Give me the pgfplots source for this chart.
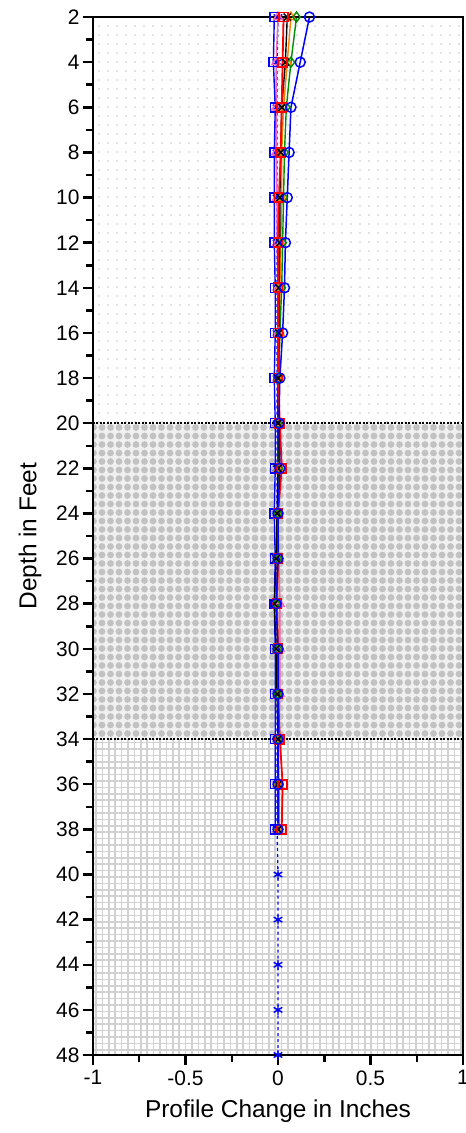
\documentclass[border=0pt]{standalone}
\usepackage{pgfplots}
\pgfplotsset{compat=1.18}
\usepackage{fontspec}
\setmainfont{Liberation Sans}
\usetikzlibrary{patterns.meta}
\begin{document}
\begin{tikzpicture}
\begin{axis}[
  name=ax,
  scale only axis,
  width=370bp, height=1038bp,
  xmin=-1, xmax=1, ymin=2, ymax=48,
  y dir=reverse,
  axis on top=true,
  axis line style={line width=2.5bp},
  xtick={-1,-0.5,0,0.5,1},
  xticklabels={-1,-0.5,0,0.5,1},
  minor xtick={-0.75,-0.25,0.25,0.75},
  ytick={2,4,...,48},
  minor ytick={3,5,...,47},
  tick align=outside,
  tick pos=left,
  major tick length=10bp,
  minor tick length=7bp,
  every tick/.style={black, line width=2.5bp},
  /pgf/number format/assume math mode=true,
  ticklabel style={font=\fontsize{21}{24}\selectfont},
  xticklabel style={yshift=-2bp},
  xlabel={Profile Change in Inches},
  ylabel={Depth in Feet},
  label style={font=\fontsize{24.5}{28}\selectfont},
  xlabel style={yshift=-8bp},
  ylabel style={yshift=8bp},
  clip=true,
]
% background regions
\fill[white] (axis cs:-1,2) rectangle (axis cs:1,48);
\fill[pattern={Dots[distance=9bp, radius=0.9bp]}, pattern color=black!22] (axis cs:-1,2) rectangle (axis cs:1,20);
\fill[black!6] (axis cs:-1,20) rectangle (axis cs:1,34);
\fill[pattern={Dots[distance=8.5bp, radius=3.4bp]}, pattern color=black!24] (axis cs:-1,20) rectangle (axis cs:1,34);
\fill[pattern={Lines[distance=6.4bp, line width=1.6bp, angle=0]}, pattern color=black!18] (axis cs:-1,34) rectangle (axis cs:1,48);
\fill[pattern={Lines[distance=6.4bp, line width=1.6bp, angle=90]}, pattern color=black!18] (axis cs:-1,34) rectangle (axis cs:1,48);
\draw[black, line width=1.8bp, dash pattern=on 2bp off 1.5bp] (axis cs:-1,20) -- (axis cs:1,20);
\draw[black, line width=1.8bp, dash pattern=on 2bp off 1.5bp] (axis cs:-1,34) -- (axis cs:1,34);

% series: blue dashed with stars, 2..48
\addplot[blue, dashed, line width=1.3bp, mark=asterisk, mark size=5bp, mark options={solid, line width=1.4bp}] coordinates {
(0.0,2) (-0.005,4) (-0.005,6) (-0.005,8) (-0.005,10) (-0.005,12) (-0.005,14) (-0.005,16) (-0.005,18) (-0.005,20)
(-0.005,22) (-0.005,24) (-0.005,26) (-0.01,28) (-0.005,30) (-0.005,32) (-0.005,34) (-0.005,36) (-0.005,38) (0.0,40)
(0.0,42) (0.0,44) (0.0,46) (0.0,48)};
% magenta
\addplot[magenta!60, line width=1.4bp, mark=triangle, mark size=5bp, mark options={solid}] coordinates {
(0.0,2) (-0.01,4) (-0.01,6) (-0.01,8) (-0.005,10) (-0.005,12) (0.0,14) (0.0,16) (0.0,18) (0.0,20)
(0.0,22) (0.0,24) (0.005,26) (0.01,28) (0.01,30) (0.01,32) (0.005,34) (0.0,36) (0.0,38)};
% blue squares
\addplot[blue, line width=1.4bp, mark=square, mark size=4.5bp] coordinates {
(-0.02,2) (-0.025,4) (-0.015,6) (-0.02,8) (-0.02,10) (-0.02,12) (-0.015,14) (-0.015,16) (-0.02,18) (-0.015,20)
(-0.015,22) (-0.02,24) (-0.015,26) (-0.02,28) (-0.015,30) (-0.015,32) (-0.015,34) (-0.015,36) (-0.015,38)};
% orange triangles
\addplot[orange, line width=1.4bp, mark=triangle, mark size=5bp] coordinates {
(0.07,2) (0.05,4) (0.03,6) (0.02,8) (0.02,10) (0.015,12) (0.01,14) (0.01,16) (0.0,18) (0.0,20)
(0.0,22) (0.0,24) (0.0,26) (-0.01,28) (0.0,30) (0.0,32) (0.0,34) (0.0,36) (0.0,38)};
% green
\addplot[green!55!black, line width=1.4bp, mark=diamond, mark size=5bp] coordinates {
(0.1,2) (0.07,4) (0.045,6) (0.035,8) (0.03,10) (0.025,12) (0.02,14) (0.01,16) (0.005,18) (0.0,20)
(0.005,22) (0.0,24) (0.0,26) (-0.01,28) (0.0,30) (0.0,32) (0.0,34) (0.005,36) (0.005,38)};
% black
\addplot[black, line width=1.4bp, mark=x, mark size=5bp] coordinates {
(0.05,2) (0.04,4) (0.02,6) (0.015,8) (0.01,10) (0.01,12) (0.005,14) (0.005,16) (0.0,18) (0.0,20)
(0.0,22) (-0.005,24) (-0.01,26) (-0.02,28) (-0.01,30) (-0.005,32) (0.0,34) (0.0,36) (0.0,38)};
% red squares
\addplot[red, line width=1.8bp, mark=square, mark size=4.5bp] coordinates {
(0.03,2) (0.025,4) (0.02,6) (0.015,8) (0.005,10) (0.0,12) (0.0,14) (0.0,16) (0.0,18) (0.01,20)
(0.02,22) (0.0,24) (0.0,26) (-0.005,28) (0.0,30) (0.0,32) (0.01,34) (0.025,36) (0.02,38)};
% blue circles
\addplot[blue, line width=1.5bp, mark=o, mark size=5bp] coordinates {
(0.17,2) (0.12,4) (0.07,6) (0.06,8) (0.05,10) (0.04,12) (0.035,14) (0.025,16) (0.01,18) (0.005,20)
(0.01,22) (0.0,24) (0.0,26) (-0.01,28) (0.0,30) (0.0,32) (0.0,34) (0.0,36) (0.0,38)};
\end{axis}
\pgfresetboundingbox
\path (ax.south west) ++(-93bp,-78bp) rectangle ++(466bp,1133bp);
\end{tikzpicture}
\end{document}
